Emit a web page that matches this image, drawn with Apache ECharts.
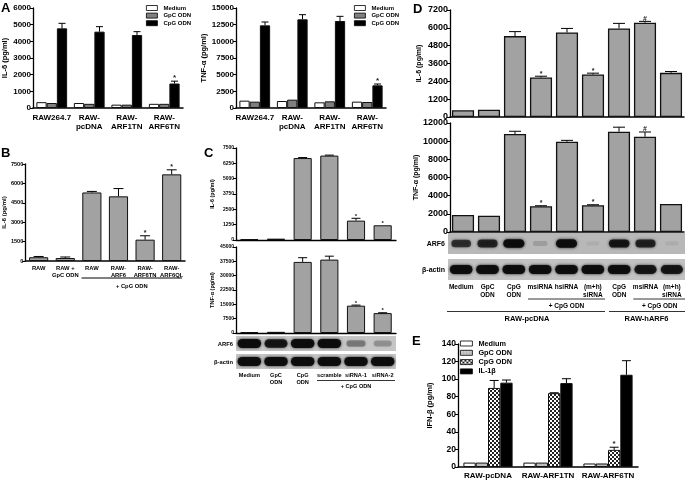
<!DOCTYPE html>
<html><head><meta charset="utf-8">
<script src="https://cdn.jsdelivr.net/npm/echarts@6/dist/echarts.min.js"></script>
<style>html,body{margin:0;padding:0;background:#fff}#c{width:685px;height:480px}</style>
</head><body><div id="c"></div>
<script>
// ================= DATA =================
// Panel A
const catsA = ['RAW264.7', 'RAW-\npcDNA', 'RAW-\nARF1TN', 'RAW-\nARF6TN'];
const namesA = ['Medium', 'GpC ODN', 'CpG ODN'];
const il6A_medium = [350, 300, 200, 250];
const il6A_gpc = [300, 250, 200, 250];
const il6A_cpg = [4780, 4580, 4380, 1470];
const il6A_cpgErr = [300, 300, 200, 140];
const il6A_sig = ['', '', '', '*'];
const tnfA_medium = [1100, 1050, 850, 950];
const tnfA_gpc = [950, 1250, 1000, 900];
const tnfA_cpg = [12400, 13300, 13050, 3400];
const tnfA_cpgErr = [500, 700, 700, 200];
const tnfA_sig = ['', '', '', '*'];
const ticksA_il6 = [0, 1000, 2000, 3000, 4000, 5000, 6000];
const ticksA_tnf = [0, 2500, 5000, 7500, 10000, 12500, 15000];
// Panel B
const catsB = ['RAW', 'RAW +\nGpC ODN', 'RAW', 'RAW-\nARF6', 'RAW-\nARF6TN', 'RAW-\nARF6QL'];
const il6B = [290, 230, 5300, 5000, 1650, 6700];
const il6B_err = [60, 80, 80, 600, 300, 350];
const il6B_sig = ['', '', '', '', '*', '*'];
const ticksB = [0, 1500, 3000, 4500, 6000, 7500];
// Panel C
const catsC = ['Medium', 'GpC\nODN', 'CpG\nODN', 'scramble', 'siRNA-1', 'siRNA-2'];
const il6C = [60, 110, 6680, 6880, 1580, 1200];
const il6C_err = [0, 0, 40, 40, 190, 0];
const il6C_sig = ['', '', '', '', '*', '*'];
const tnfC = [500, 600, 37200, 38400, 14300, 10400];
const tnfC_err = [0, 0, 2200, 1800, 300, 200];
const tnfC_sig = ['', '', '', '', '*', '*'];
const ticksC_il6 = [0, 1250, 2500, 3750, 5000, 6250, 7500];
const ticksC_tnf = [0, 7500, 15000, 22500, 30000, 37500, 45000];
const blotC_arf6 = [0.95, 0.9, 0.95, 0.95, 0.55, 0.45];
const blotC_actin = [0.95, 0.95, 0.95, 0.95, 0.95, 0.95];
// Panel D
const catsD = ['Medium', 'GpC\nODN', 'CpG\nODN', 'msiRNA', 'hsiRNA', '(m+h)\nsiRNA', 'CpG\nODN', 'msiRNA', '(m+h)\nsiRNA'];
const il6D = [450, 495, 5445, 2655, 5690, 2860, 5960, 6345, 2970];
const il6D_err = [0, 0, 300, 90, 270, 90, 340, 90, 90];
const il6D_sig = ['', '', '', '*', '', '*', '', '#', ''];
const tnfD = [1870, 1800, 10790, 2830, 9940, 2940, 11040, 10490, 3080];
const tnfD_err = [0, 0, 300, 60, 150, 60, 500, 520, 0];
const tnfD_sig = ['', '', '', '*', '', '*', '', '#', ''];
const ticksD_il6 = [0, 1200, 2400, 3600, 4800, 6000, 7200];
const ticksD_tnf = [0, 2000, 4000, 6000, 8000, 10000, 12000];
const blotD_arf6 = [0.8, 0.85, 0.95, 0.3, 0.95, 0.12, 0.9, 0.85, 0.15];
const blotD_actin = [0.95, 0.95, 0.95, 0.95, 0.95, 0.95, 0.95, 0.9, 0.9];
// Panel E
const catsE = ['RAW-pcDNA', 'RAW-ARF1TN', 'RAW-ARF6TN'];
const namesE = ['Medium', 'GpC ODN', 'CpG ODN', 'IL-1β'];
const ifnE_medium = [5, 5, 4];
const ifnE_gpc = [5, 5, 4];
const ifnE_cpg = [90, 84, 19.5];
const ifnE_cpgErr = [8.5, 0.5, 3];
const ifnE_cpgSig = ['', '', '*'];
const ifnE_il1 = [96, 95.5, 105];
const ifnE_il1Err = [3, 5, 16];
const ticksE = [0, 20, 40, 60, 80, 100, 120, 140];

// ================= STYLE =================
const FONT = '"Liberation Sans", Arial, sans-serif';
const GRAY = '#a2a2a2';
function pattern(kind) {
  const cv = document.createElement('canvas');
  const ctx = cv.getContext('2d');
  if (kind === 'dots') {
    cv.width = 3; cv.height = 3;
    ctx.fillStyle = '#bdbdbd'; ctx.fillRect(0, 0, 3, 3);
    ctx.fillStyle = '#f4f4f4'; ctx.fillRect(1, 1, 1, 1);
  } else {
    cv.width = 4; cv.height = 4;
    ctx.fillStyle = '#ffffff'; ctx.fillRect(0, 0, 4, 4);
    ctx.fillStyle = '#222222'; ctx.fillRect(0, 0, 2, 2); ctx.fillRect(2, 2, 2, 2);
  }
  return { image: cv, repeat: 'repeat' };
}
const patDots = pattern('dots');
const patCheck = pattern('check');

const grids = [
  { left: 33, top: 8, width: 150, height: 100 },     // 0 A IL-6
  { left: 236, top: 8, width: 150, height: 100 },    // 1 A TNF
  { left: 25, top: 164, width: 160, height: 97 },    // 2 B
  { left: 236, top: 148, width: 160, height: 92 },   // 3 C IL-6
  { left: 236, top: 247, width: 160, height: 86 },   // 4 C TNF
  { left: 236, top: 336, width: 160, height: 15, show: true, backgroundColor: '#c6c6c6', borderWidth: 0 }, // 5
  { left: 236, top: 354, width: 160, height: 15, show: true, backgroundColor: '#c6c6c6', borderWidth: 0 }, // 6
  { left: 450, top: 10, width: 234, height: 107 },   // 7 D IL-6
  { left: 450, top: 123, width: 234, height: 109 },  // 8 D TNF
  { left: 448, top: 233, width: 237, height: 21, show: true, backgroundColor: '#b8b8b8', borderWidth: 0 }, // 9
  { left: 448, top: 259, width: 237, height: 21, show: true, backgroundColor: '#c2c2c2', borderWidth: 0 }, // 10
  { left: 458, top: 344, width: 180, height: 123 }   // 11 E
];

function xAx(gi, cats, opt) {
  opt = opt || {};
  return {
    gridIndex: gi, type: 'category', data: cats,
    axisLine: { show: opt.line !== false, lineStyle: { color: '#000', width: opt.lw || 1.5 } },
    axisTick: { show: false },
    axisLabel: opt.labels ? { show: true, interval: 0, fontFamily: FONT, fontWeight: 'bold', color: '#000',
      fontSize: opt.fs, lineHeight: opt.lh, margin: opt.margin } : { show: false }
  };
}
function yAx(gi, ticks, name, fs, nfs, gap) {
  return {
    gridIndex: gi, type: 'value', min: ticks[0], max: ticks[ticks.length - 1], interval: ticks[1] - ticks[0],
    name: name, nameLocation: 'middle', nameGap: gap,
    nameTextStyle: { fontFamily: FONT, fontWeight: 'bold', fontSize: nfs, color: '#000' },
    axisLine: { show: true, lineStyle: { color: '#000', width: 1.3 } },
    axisTick: { show: true, length: 3, lineStyle: { color: '#000', width: 1 } },
    splitLine: { show: false },
    axisLabel: { fontFamily: FONT, fontWeight: 'bold', fontSize: fs, color: '#000', margin: 2,
      formatter: function (v) { return String(v); } }
  };
}
function yBlot(gi) { return { gridIndex: gi, type: 'value', min: 0, max: 1, show: false }; }

function bar(gi, name, vals, color, extra) {
  return Object.assign({
    type: 'bar', name: name, xAxisIndex: gi, yAxisIndex: gi, data: vals, silent: true,
    itemStyle: { color: color, borderColor: '#111', borderWidth: 1 }
  }, extra || {});
}
function errs(gi, vals, es, sigs, k, n, gap, capW, sigFs, lw) {
  return {
    type: 'custom', xAxisIndex: gi, yAxisIndex: gi, z: 5, silent: true,
    data: vals.map((v, i) => [i, v, es[i]]),
    renderItem: function (params, api) {
      const i = params.dataIndex;
      const c = api.value(0), v = api.value(1), e = api.value(2);
      const band = api.size([1, 0])[0];
      const gw = band * (1 - gap), bw = gw / n;
      const p0 = api.coord([c, v]), p1 = api.coord([c, v + e]);
      const x = p0[0] - gw / 2 + bw * (k + 0.5);
      const st = { stroke: '#000', lineWidth: lw || 1 };
      const ch = [];
      if (e > 0) {
        ch.push({ type: 'line', shape: { x1: x, y1: p0[1], x2: x, y2: p1[1] }, style: st });
        ch.push({ type: 'line', shape: { x1: x - capW / 2, y1: p1[1], x2: x + capW / 2, y2: p1[1] }, style: st });
      }
      if (sigs[i]) ch.push({ type: 'text', style: { text: sigs[i], x: x, y: p1[1] + 1, align: 'center', verticalAlign: 'bottom',
        fontSize: sigFs, fontWeight: 'bold', fontFamily: FONT, fill: '#222' } });
      return { type: 'group', children: ch };
    }
  };
}
function blot(gi, vals, wFrac, hFrac) {
  return {
    type: 'custom', xAxisIndex: gi, yAxisIndex: gi, silent: true,
    data: vals.map((v, i) => [i, v]),
    renderItem: function (params, api) {
      const c = api.value(0), v = api.value(1);
      const p = api.coord([c, 0.5]);
      const band = api.size([1, 0])[0];
      const h = api.size([0, 1])[1];
      const w = band * wFrac * (0.55 + 0.45 * v), hh = h * hFrac * (0.35 + 0.65 * v);
      const col = 'rgba(12,12,12,' + Math.min(1, v * v + 0.05) + ')';
      return { type: 'rect', shape: { x: p[0] - w / 2, y: p[1] - hh / 2, width: w, height: hh, r: hh / 2 },
        style: { fill: col, shadowBlur: 3, shadowColor: col } };
    }
  };
}

const legendText = (fs) => ({ fontFamily: FONT, fontWeight: 'bold', fontSize: fs, color: '#000', padding: [0, 0, 0, 1] });
const legA = (left) => ({
  left: left, top: 5, orient: 'vertical', itemWidth: 11, itemHeight: 5, itemGap: 1.6, padding: 0,
  selectedMode: false, icon: 'rect', textStyle: legendText(6), itemStyle: { borderColor: '#000', borderWidth: 0.8 },
  data: [
    { name: 'Medium', itemStyle: { color: '#fff', borderColor: '#000', borderWidth: 0.8 } },
    { name: 'GpC ODN', itemStyle: { color: '#7f7f7f', borderColor: '#000', borderWidth: 0.8 } },
    { name: 'CpG ODN', itemStyle: { color: '#000', borderColor: '#000', borderWidth: 0.8 } }
  ]
});

const option = {
  animation: false,
  backgroundColor: '#fff',
  grid: grids,
  legend: [
    legA(146), legA(354),
    { left: 460, top: 340, orient: 'vertical', itemWidth: 12, itemHeight: 5, itemGap: 2.3, padding: 0,
      selectedMode: false, icon: 'rect', textStyle: legendText(7.3),
      data: [
        { name: 'Medium', itemStyle: { color: '#fff', borderColor: '#000', borderWidth: 0.8 } },
        { name: 'GpC ODN', itemStyle: { color: patDots, borderColor: '#000', borderWidth: 0.8 } },
        { name: 'CpG ODN', itemStyle: { color: patCheck, borderColor: '#000', borderWidth: 0.8 } },
        { name: 'IL-1β', itemStyle: { color: '#000', borderColor: '#000', borderWidth: 0.8 } }
      ] }
  ],
  xAxis: [
    xAx(0, catsA, { labels: true, fs: 8, lh: 9.5, margin: 5 }),
    xAx(1, catsA, { labels: true, fs: 8, lh: 9.5, margin: 5 }),
    xAx(2, catsB, { labels: true, fs: 5.8, lh: 7, margin: 4 }),
    xAx(3, catsC, { lw: 1.3 }),
    xAx(4, catsC, { lw: 1.3 }),
    xAx(5, catsC, { line: false }),
    xAx(6, catsC, { line: false, labels: true, fs: 5.6, lh: 7, margin: 3 }),
    xAx(7, catsD, { lw: 1.5 }),
    xAx(8, catsD, { lw: 1.5 }),
    xAx(9, catsD, { line: false }),
    xAx(10, catsD, { line: false, labels: true, fs: 6.5, lh: 8, margin: 3 }),
    xAx(11, catsE, { labels: true, fs: 8, lh: 9, margin: 4, lw: 1.5 })
  ],
  yAxis: [
    yAx(0, ticksA_il6, 'IL-6 (pg/ml)', 8, 7.5, 24),
    yAx(1, ticksA_tnf, 'TNF-α (pg/ml)', 8, 7.5, 27),
    yAx(2, ticksB, 'IL-6 (pg/ml)', 5.6, 6, 18),
    yAx(3, ticksC_il6, 'IL-6 (pg/ml)', 5, 5.5, 21),
    yAx(4, ticksC_tnf, 'TNF-α (pg/ml)', 5, 5.5, 21),
    yBlot(5), yBlot(6),
    yAx(7, ticksD_il6, 'IL-6 (pg/ml)', 9, 7, 27),
    yAx(8, ticksD_tnf, 'TNF-α (pg/ml)', 9, 7, 30),
    yBlot(9), yBlot(10),
    yAx(11, ticksE, 'IFN-β (pg/ml)', 8.5, 7.5, 24)
  ],
  series: [
    // A
    bar(0, 'Medium', il6A_medium, '#fff', { barGap: '0%', barCategoryGap: '18%' }),
    bar(0, 'GpC ODN', il6A_gpc, '#7f7f7f', { barGap: '0%', barCategoryGap: '18%' }),
    bar(0, 'CpG ODN', il6A_cpg, '#000', { barGap: '0%', barCategoryGap: '18%' }),
    errs(0, il6A_cpg, il6A_cpgErr, il6A_sig, 2, 3, 0.18, 7, 8),
    bar(1, 'Medium', tnfA_medium, '#fff', { barGap: '0%', barCategoryGap: '18%' }),
    bar(1, 'GpC ODN', tnfA_gpc, '#7f7f7f', { barGap: '0%', barCategoryGap: '18%' }),
    bar(1, 'CpG ODN', tnfA_cpg, '#000', { barGap: '0%', barCategoryGap: '18%' }),
    errs(1, tnfA_cpg, tnfA_cpgErr, tnfA_sig, 2, 3, 0.18, 7, 8),
    // B
    bar(2, 'IL-6 B', il6B, GRAY, { barWidth: '72%' }),
    errs(2, il6B, il6B_err, il6B_sig, 0, 1, 0.28, 10, 7),
    // C
    bar(3, 'IL-6 C', il6C, GRAY, { barWidth: '68%' }),
    errs(3, il6C, il6C_err, il6C_sig, 0, 1, 0.32, 9, 6),
    bar(4, 'TNF C', tnfC, GRAY, { barWidth: '68%' }),
    errs(4, tnfC, tnfC_err, tnfC_sig, 0, 1, 0.32, 9, 6),
    blot(5, blotC_arf6, 0.9, 0.62),
    blot(6, blotC_actin, 0.9, 0.62),
    // D
    bar(7, 'IL-6 D', il6D, GRAY, { barWidth: '85%', itemStyle: { color: GRAY, borderColor: '#111', borderWidth: 1.3 } }),
    errs(7, il6D, il6D_err, il6D_sig, 0, 1, 0.15, 12, 7),
    bar(8, 'TNF D', tnfD, GRAY, { barWidth: '85%', itemStyle: { color: GRAY, borderColor: '#111', borderWidth: 1.3 } }),
    errs(8, tnfD, tnfD_err, tnfD_sig, 0, 1, 0.15, 12, 7),
    blot(9, blotD_arf6, 0.82, 0.42),
    blot(10, blotD_actin, 0.88, 0.45),
    // E
    bar(11, 'Medium', ifnE_medium, '#fff', { barGap: '0%', barCategoryGap: '18%' }),
    bar(11, 'GpC ODN', ifnE_gpc, patDots, { barGap: '0%', barCategoryGap: '18%' }),
    bar(11, 'CpG ODN', ifnE_cpg, patCheck, { barGap: '0%', barCategoryGap: '18%' }),
    bar(11, 'IL-1β', ifnE_il1, '#000', { barGap: '0%', barCategoryGap: '18%' }),
    errs(11, ifnE_cpg, ifnE_cpgErr, ifnE_cpgSig, 2, 4, 0.18, 9, 8),
    errs(11, ifnE_il1, ifnE_il1Err, ['', '', ''], 3, 4, 0.18, 9, 8)
  ]
};

const chart = echarts.init(document.getElementById('c'), null, { renderer: 'canvas' });
chart.setOption(option);

// ---------- annotations (positioned from axis scales) ----------
function catX(xi, idx) { return chart.convertToPixel({ xAxisIndex: xi }, idx); }
function span(xi, a, b, inset) {
  const c0 = catX(xi, a), c1 = catX(xi, b);
  const bw = catX(xi, 1) - catX(xi, 0);
  return [c0 - bw / 2 + inset, c1 + bw / 2 - inset];
}
const gr = [];
function t(text, x, y, fs, align) {
  gr.push({ type: 'text', x: x, y: y, silent: true,
    style: { text: text, fontFamily: FONT, fontWeight: 'bold', fontSize: fs, fill: '#000', align: align || 'center', verticalAlign: 'middle' } });
}
function l(x1, x2, y, w) {
  gr.push({ type: 'line', silent: true, shape: { x1: x1, y1: y, x2: x2, y2: y }, style: { stroke: '#000', lineWidth: w || 1 } });
}
// panel letters
t('A', 1, 8, 13, 'left'); t('B', 1, 153, 13, 'left'); t('C', 204, 153, 13, 'left');
t('D', 413, 9, 13, 'left'); t('E', 412, 341, 13, 'left');
// B bracket
let s = span(2, 2, 5, 3); l(s[0], s[1], 278, 1); t('+ CpG ODN', (s[0] + s[1]) / 2, 286, 5.8);
// C bracket + blot labels
s = span(6, 3, 5, 1); l(s[0], s[1], 380.5, 0.8); t('+ CpG ODN', (s[0] + s[1]) / 2, 386, 5.6);
t('ARF6', 233, 344, 5.8, 'right'); t('β-actin', 233, 362, 5.8, 'right');
// D brackets + blot labels
s = span(10, 3, 5, 1); l(s[0], s[1], 299, 0.8); t('+ CpG ODN', (s[0] + s[1]) / 2, 306, 6.5);
s = span(10, 7, 8, 1); l(s[0], s[1] + 2, 299, 0.8); t('+ CpG ODN', (s[0] + s[1]) / 2 + 1, 306, 6.5);
s = span(10, 0, 5, 1); l(s[0] - 2, s[1], 311.5, 0.8); t('RAW-pcDNA', (s[0] + s[1]) / 2, 319, 7.5);
s = span(10, 6, 8, 1); l(s[0] + 2, s[1] + 2, 311.5, 0.8); t('RAW-hARF6', (s[0] + s[1]) / 2 + 1, 319, 7.5);
t('ARF6', 445, 244, 7, 'right'); t('β-actin', 445, 270, 7, 'right');
chart.setOption({ graphic: gr });
</script>
</body></html>
